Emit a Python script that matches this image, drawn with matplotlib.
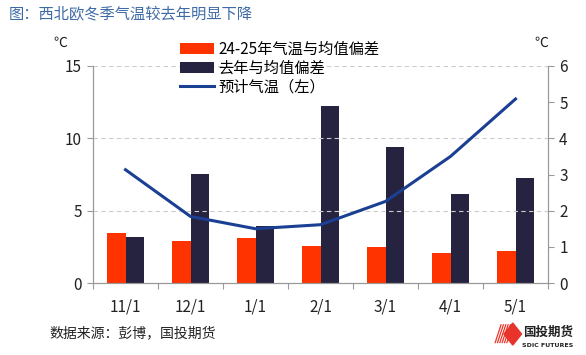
import numpy as np
import matplotlib.pyplot as plt
from matplotlib.patches import Polygon

plt.rcParams['font.family'] = ['Noto Sans CJK SC', 'DejaVu Sans']

# data
months = ["11/1", "12/1", "1/1", "2/1", "3/1", "4/1", "5/1"]
dev_this = [1.39, 1.17, 1.25, 1.03, 0.99, 0.82, 0.89]   # 24-25年气温与均值偏差 (right axis)
dev_last = [1.28, 3.01, 1.58, 4.89, 3.75, 2.47, 2.90]   # 去年与均值偏差 (right axis)
forecast = [7.83, 4.60, 3.75, 4.03, 5.64, 8.75, 12.72]  # 预计气温 (left axis)

c_orange = "#FF3300"
c_navy = "#262340"
c_line = "#1B3F92"

fig = plt.figure(figsize=(5.86, 3.55), dpi=100)
ax = fig.add_axes([0.1587, 0.2028, 0.7765, 0.6113])
ax2 = ax.twinx()

x = np.arange(len(months))
w = 0.28
ax2.bar(x - w / 2, dev_this, w, color=c_orange, label="24-25年气温与均值偏差", zorder=2)
ax2.bar(x + w / 2, dev_last, w, color=c_navy, label="去年与均值偏差", zorder=2)
ax.plot(x, forecast, color=c_line, lw=2.2, label="预计气温（左）", zorder=3)

ax.set_zorder(ax2.get_zorder() + 1)
ax.patch.set_visible(False)

ax.set_xlim(-0.5, 6.5)
ax.set_ylim(0, 15)
ax.set_yticks([0, 5, 10, 15])
ax2.set_ylim(0, 6)
ax2.set_yticks(range(7))

ax.set_xticks(np.arange(-0.5, 7, 1), minor=False)
ax.set_xticklabels([])
ax.set_xticks(x, minor=True)
ax.set_xticklabels(months, minor=True)
ax.tick_params(axis="x", which="major", length=4, color="#999999")
ax.tick_params(axis="x", which="minor", length=0, pad=11, labelsize=11, labelcolor="#222222")
ax.tick_params(axis="y", length=4, color="#999999", labelsize=11, labelcolor="#222222", pad=4)
ax2.tick_params(axis="y", length=4, color="#999999", labelsize=11, labelcolor="#222222", pad=4)

for y in [5, 10, 15]:
    ax.axhline(y, color="#cccccc", lw=0.8, ls=(0, (4, 3)), zorder=0)

for a in (ax, ax2):
    a.spines["top"].set_visible(False)
    for s in ("left", "right", "bottom"):
        a.spines[s].set_color("#999999")
        a.spines[s].set_linewidth(0.8)

h1, l1 = ax2.get_legend_handles_labels()
h2, l2 = ax.get_legend_handles_labels()
fig.legend(h1 + h2, l1 + l2, loc="upper left", bbox_to_anchor=(0.308, 0.885),
           frameon=False, fontsize=11, handlelength=2.2, handletextpad=0.3,
           labelspacing=0.12, borderpad=0, borderaxespad=0)

fig.text(0.103, 0.868, "℃", fontsize=10, ha="center", color="#222222")
fig.text(0.923, 0.868, "℃", fontsize=10, ha="center", color="#222222")

fig.text(0.015, 0.962, "图：西北欧冬季气温较去年明显下降", fontsize=11,
         color="#3E6BA5", va="center")
fig.text(0.085, 0.060, "数据来源：彭博，国投期货", fontsize=10, color="#222222", va="center")

# logo
diam = Polygon([[0.860, 0.059], [0.875, 0.028], [0.890, 0.059], [0.875, 0.090]],
               closed=True, transform=fig.transFigure, color="#E8342A")
fig.patches.append(diam)
for i in range(6):
    x0 = 0.845 + i * 0.004
    fig.lines.append(plt.Line2D([x0, x0 + 0.010], [0.035, 0.085], transform=fig.transFigure,
                                color="#E8342A", lw=0.9))
fig.text(0.935, 0.064, "国投期货", fontsize=9, color="#222222", ha="center",
         va="center", fontweight="bold")
fig.text(0.935, 0.028, "SDIC FUTURES", fontsize=4.5, color="#222222", ha="center",
         va="center", family="DejaVu Sans", fontweight="bold")

fig.savefig("out.png", dpi=100)
